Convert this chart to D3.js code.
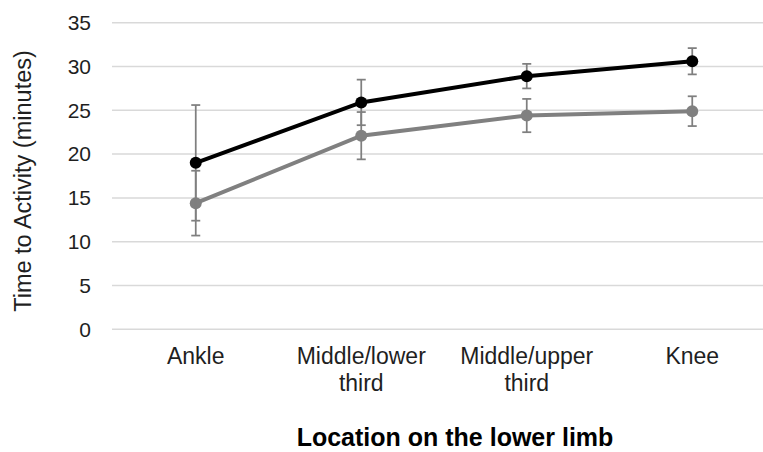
<!DOCTYPE html>
<html>
<head>
<meta charset="utf-8">
<script src="https://cdn.jsdelivr.net/npm/d3@7"></script>
<style>
  html, body { margin: 0; padding: 0; background: #fff; }
  svg { display: block; font-family: "Liberation Sans", Arial, sans-serif; }
</style>
</head>
<body>
<div id="chart"></div>
<script>
// Chart data
const categories = ["Ankle", "Middle/lower third", "Middle/upper third", "Knee"];
const categoryLines = [["Ankle"], ["Middle/lower", "third"], ["Middle/upper", "third"], ["Knee"]];
const blackValues = [19.0, 25.9, 28.9, 30.6];
const blackErrors = [6.6, 2.6, 1.4, 1.5];
const grayValues = [14.4, 22.1, 24.4, 24.9];
const grayErrors = [3.7, 2.7, 1.9, 1.7];
const yTicks = [0, 5, 10, 15, 20, 25, 30, 35];

const width = 763;
const height = 452;

const svg = d3
  .select("#chart")
  .append("svg")
  .attr("width", width)
  .attr("height", height);

// Scales - the plot runs a bit past the right edge (cropped in the original)
const x = d3.scaleBand().domain(categories).range([113, 775]);
const y = d3.scaleLinear().domain([0, 35]).range([329.3, 22.7]);
const cx = (c) => x(c) + x.bandwidth() / 2;

// Gridlines
svg
  .append("g")
  .selectAll("line")
  .data(yTicks)
  .enter()
  .append("line")
  .attr("x1", 112)
  .attr("x2", 775)
  .attr("y1", (d) => y(d))
  .attr("y2", (d) => y(d))
  .style("stroke", "#d9d9d9")
  .style("stroke-width", 1.5);

// Y axis labels
const yAxis = svg
  .append("g")
  .attr("transform", "translate(91,0)")
  .call(d3.axisLeft(y).tickValues(yTicks).tickSize(0).tickPadding(0));
yAxis.select(".domain").remove();
yAxis
  .selectAll("text")
  .style("font-size", "21px")
  .style("fill", "#1f1f1f")
  .style("font-family", '"Liberation Sans", Arial, sans-serif');

svg
  .append("text")
  .attr("transform", "translate(31,181) rotate(-90)")
  .attr("text-anchor", "middle")
  .style("font-size", "23.5px")
  .style("fill", "#1f1f1f")
  .text("Time to Activity (minutes)");

// X axis labels (two lines where needed)
const xLabels = svg
  .append("g")
  .selectAll("text")
  .data(categories)
  .enter()
  .append("text")
  .attr("x", (d) => cx(d))
  .attr("y", 364)
  .attr("text-anchor", "middle")
  .style("font-size", "23px")
  .style("fill", "#1f1f1f");

xLabels
  .selectAll("tspan")
  .data((d, i) => categoryLines[i])
  .enter()
  .append("tspan")
  .attr("x", function () {
    return d3.select(this.parentNode).attr("x");
  })
  .attr("dy", (d, i) => (i === 0 ? 0 : 27))
  .text((d) => d);

svg
  .append("text")
  .attr("x", 455)
  .attr("y", 446)
  .attr("text-anchor", "middle")
  .style("font-size", "25px")
  .style("font-weight", "bold")
  .style("fill", "#000")
  .text("Location on the lower limb");

// Series
const series = [
  { values: grayValues, errors: grayErrors, color: "#808080" },
  { values: blackValues, errors: blackErrors, color: "#000000" },
];

const line = d3
  .line()
  .x((d) => cx(d.cat))
  .y((d) => y(d.v));

series.forEach((s) => {
  const pts = categories.map((c, i) => ({ cat: c, v: s.values[i], e: s.errors[i] }));

  svg
    .append("path")
    .datum(pts)
    .attr("d", line)
    .style("fill", "none")
    .style("stroke", s.color)
    .style("stroke-width", 4);

  // Error bars
  const eb = svg.append("g").selectAll("g").data(pts).enter().append("g");
  eb.append("line")
    .attr("x1", (d) => cx(d.cat))
    .attr("x2", (d) => cx(d.cat))
    .attr("y1", (d) => y(d.v - d.e))
    .attr("y2", (d) => y(d.v + d.e))
    .style("stroke", "#7f7f7f")
    .style("stroke-width", 1.75);
  [-1, 1].forEach((sgn) => {
    eb.append("line")
      .attr("x1", (d) => cx(d.cat) - 4.5)
      .attr("x2", (d) => cx(d.cat) + 4.5)
      .attr("y1", (d) => y(d.v + sgn * d.e))
      .attr("y2", (d) => y(d.v + sgn * d.e))
      .style("stroke", "#7f7f7f")
      .style("stroke-width", 1.75);
  });

  svg
    .append("g")
    .selectAll("circle")
    .data(pts)
    .enter()
    .append("circle")
    .attr("cx", (d) => cx(d.cat))
    .attr("cy", (d) => y(d.v))
    .attr("r", 6)
    .style("fill", s.color);
});
</script>
</body>
</html>
